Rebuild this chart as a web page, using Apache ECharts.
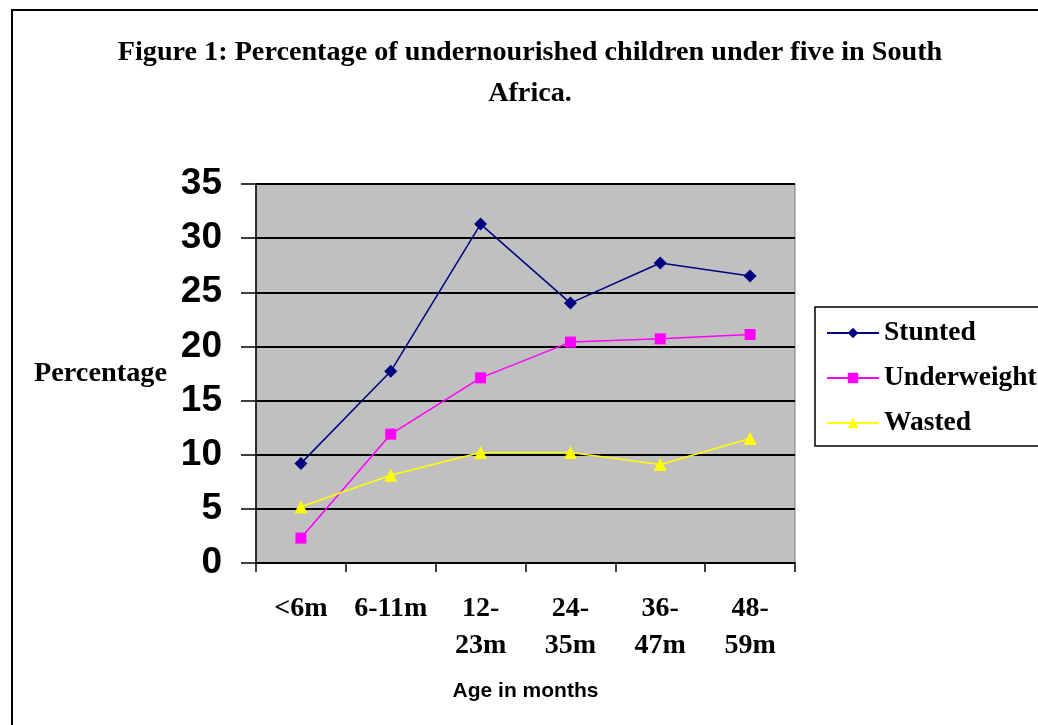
<!DOCTYPE html>
<html>
<head>
<meta charset="utf-8">
<script src="https://cdn.jsdelivr.net/npm/echarts@6/dist/echarts.min.js"></script>
<style>html,body{margin:0;padding:0;background:#fff;}#c{width:1038px;height:725px;}</style>
</head>
<body>
<div id="c"></div>
<script>
const categories = ['<6m', '6-11m', '12-\n23m', '24-\n35m', '36-\n47m', '48-\n59m'];
const stunted = [9.2, 17.7, 31.3, 24.0, 27.7, 26.5];
const underweight = [2.3, 11.9, 17.1, 20.4, 20.7, 21.1];
const wasted = [5.2, 8.1, 10.2, 10.2, 9.1, 11.5];
const yTicks = [0, 5, 10, 15, 20, 25, 30, 35];

const serif = '"Liberation Serif", "Times New Roman", serif';
const sans = '"Liberation Sans", Arial, sans-serif';

const chart = echarts.init(document.getElementById('c'), null, {renderer: 'canvas'});
chart.setOption({
  animation: false,
  backgroundColor: '#fff',
  title: {
    text: 'Figure 1: Percentage of undernourished children under five in South\nAfrica.',
    left: 525, top: 27, textAlign: 'center',
    textStyle: {fontFamily: serif, fontWeight: 'bold', fontSize: 28.2, lineHeight: 41, color: '#000'}
  },
  graphic: [
    {type: 'rect', shape: {x: 12, y: 10, width: 1100, height: 800}, style: {fill: 'none', stroke: '#000', lineWidth: 2}, z: -1}
  ],
  legend: {
    orient: 'vertical', left: 815, top: 307,
    padding: [12, 60, 9, 11],
    itemWidth: 52, itemHeight: 13, itemGap: 17,
    backgroundColor: '#fff', borderColor: '#000', borderWidth: 1.5,
    textStyle: {fontFamily: serif, fontWeight: 'bold', fontSize: 27.5, color: '#000'},
    data: ['Stunted', 'Underweight', 'Wasted']
  },
  grid: {left: 256, right: 243, top: 184, bottom: 162, show: true, backgroundColor: '#C0C0C0', borderColor: '#808080', borderWidth: 1},
  xAxis: {
    type: 'category', data: categories, boundaryGap: true,
    name: 'Age in months', nameLocation: 'middle', nameGap: 118,
    nameTextStyle: {fontFamily: sans, fontWeight: 'bold', fontSize: 21, color: '#000'},
    axisLine: {lineStyle: {color: '#000', width: 1.5}},
    axisTick: {show: true, length: 9, lineStyle: {color: '#000', width: 1.5}},
    axisLabel: {interval: 0, fontFamily: serif, fontWeight: 'bold', fontSize: 28, lineHeight: 37, margin: 27, color: '#000'}
  },
  yAxis: {
    type: 'value', min: 0, max: 35, interval: 5,
    name: 'Percentage', nameLocation: 'middle', nameRotate: 0, nameGap: 89,
    nameTextStyle: {fontFamily: serif, fontWeight: 'bold', fontSize: 28.3, color: '#000', align: 'right', padding: [12, 0, 0, 0]},
    axisLine: {show: true, lineStyle: {color: '#000', width: 1.5}},
    axisTick: {show: true, length: 15, lineStyle: {color: '#000', width: 1.5}},
    axisLabel: {fontFamily: sans, fontWeight: 'bold', fontSize: 37, margin: 34, color: '#000',
      formatter: v => yTicks.includes(v) ? String(v) : ''},
    splitLine: {show: true, lineStyle: {color: '#000', width: 2}}
  },
  series: [
    {name: 'Stunted', type: 'line', data: stunted, symbol: 'diamond', symbolSize: 13,
      itemStyle: {color: '#000080'}, lineStyle: {color: '#000080', width: 1.5}},
    {name: 'Underweight', type: 'line', data: underweight, symbol: 'rect', symbolSize: 11,
      itemStyle: {color: '#FF00FF'}, lineStyle: {color: '#FF00FF', width: 1.5}},
    {name: 'Wasted', type: 'line', data: wasted, symbol: 'triangle', symbolSize: 13,
      itemStyle: {color: '#FFFF00'}, lineStyle: {color: '#FFFF00', width: 1.5}}
  ]
});
</script>
</body>
</html>
